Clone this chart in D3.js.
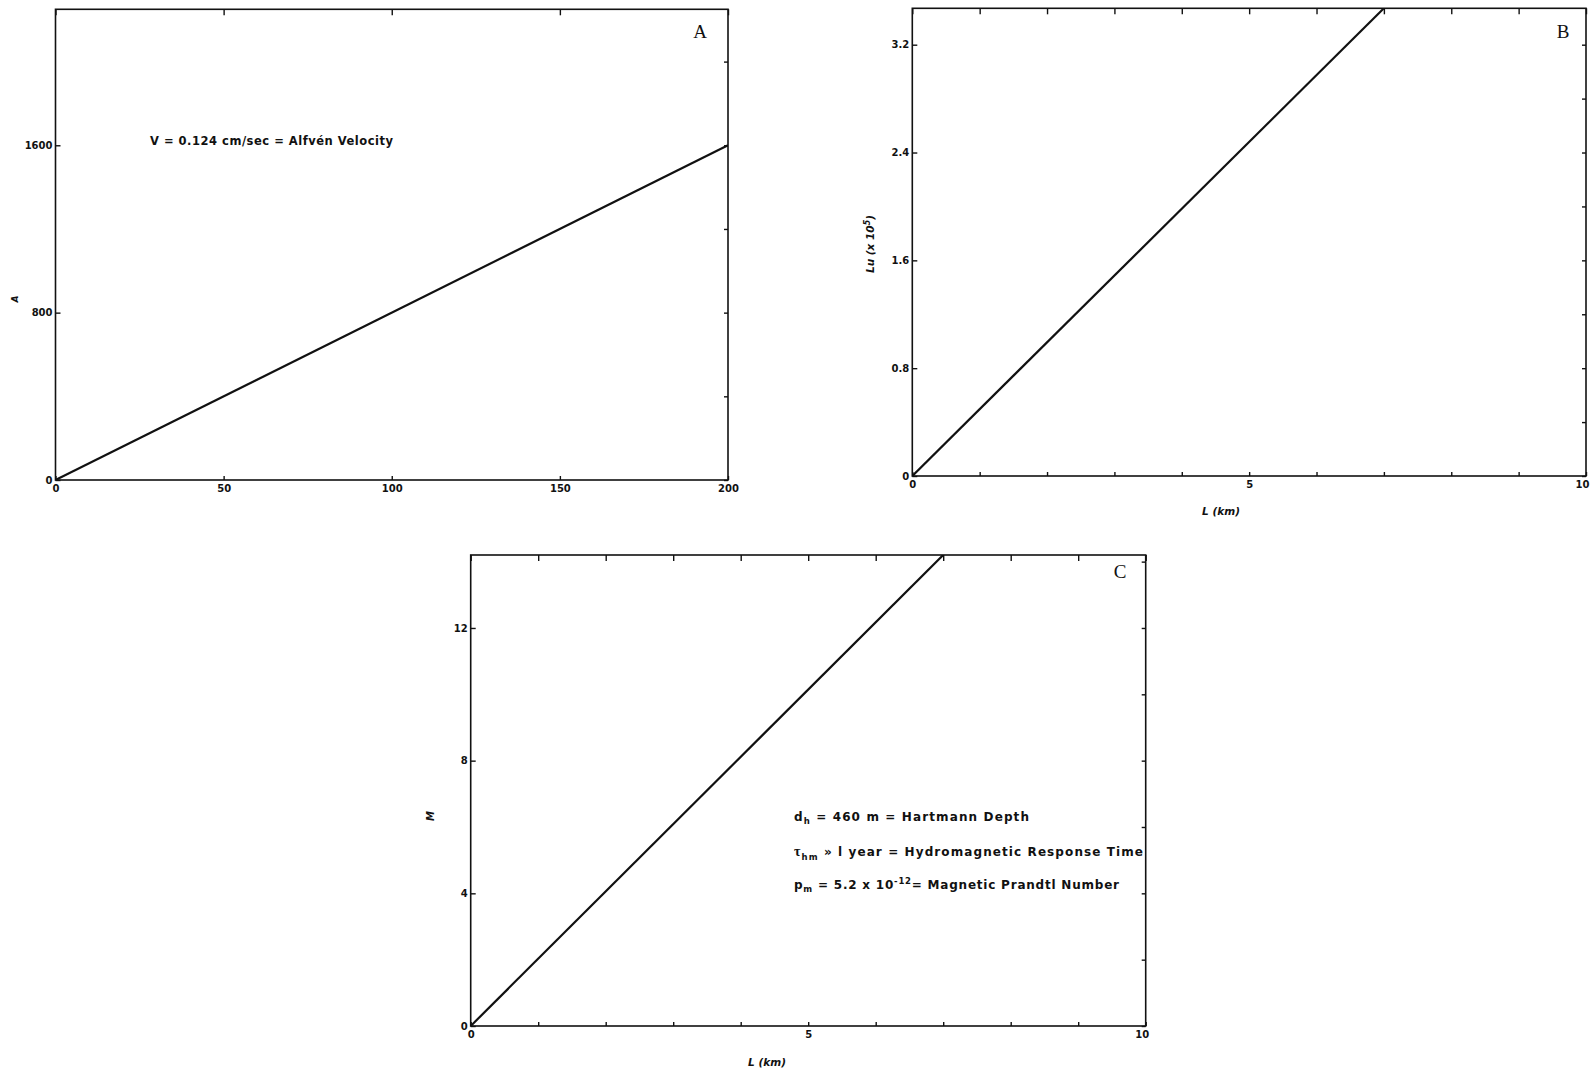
<!DOCTYPE html>
<html>
<head>
<meta charset="utf-8">
<script src="https://cdn.jsdelivr.net/npm/d3@7"></script>
<style>
  html, body { margin: 0; padding: 0; background: #fff; }
  svg { display: block; }
  .tick text { font-family: "DejaVu Sans", sans-serif; font-weight: bold; fill: #111; }
  .note { font-family: "DejaVu Sans", sans-serif; font-weight: bold; fill: #111; }
  .title { font-family: "DejaVu Sans", sans-serif; font-weight: bold; font-style: italic; fill: #111; }
  .letter { font-family: "Liberation Serif", "Times New Roman", serif; fill: #111; }
</style>
</head>
<body>
<svg id="fig" width="1590" height="1073"></svg>
<script>
// ---- Panel A: A versus wavelength ----
const aX = [0, 200];
const aY = [0, 1600];
const aXLabels = [0, 50, 100, 150, 200];
const aYLabels = [0, 800, 1600];
const aYMinor = [0, 400, 800, 1200, 1600, 2000];

// ---- Panel B: Lundquist number (x 10^5) versus L (km) ----
const bX = [0, 7];
const bY = [0, 3.47];
const bXLabels = [0, 5, 10];
const bXMinor = [0, 1, 2, 3, 4, 5, 6, 7, 8, 9, 10];
const bYLabels = [0, 0.8, 1.6, 2.4, 3.2];
const bYMinor = [0, 0.4, 0.8, 1.2, 1.6, 2.0, 2.4, 2.8, 3.2];

// ---- Panel C: M versus L (km) ----
const cX = [0, 7];
const cY = [0, 14.2];
const cXLabels = [0, 5, 10];
const cXMinor = [0, 1, 2, 3, 4, 5, 6, 7, 8, 9, 10];
const cYLabels = [0, 4, 8, 12];
const cYMinor = [0, 2, 4, 6, 8, 10, 12, 14];

const svg = d3.select("#fig");

function panel(cfg) {
  const x = d3.scaleLinear().domain(cfg.xDomain).range([cfg.left, cfg.right]);
  const y = d3.scaleLinear().domain(cfg.yDomain).range([cfg.bottom, cfg.top]);
  const g = svg.append("g");

  const clipId = "clip-" + cfg.id;
  g.append("clipPath").attr("id", clipId)
    .append("rect")
    .attr("x", cfg.left).attr("y", cfg.top)
    .attr("width", cfg.right - cfg.left).attr("height", cfg.bottom - cfg.top);

  const fmt = cfg.yFormat || (d => d);

  // left axis: labelled, ticks pointing inward
  g.append("g").attr("transform", `translate(${cfg.left},0)`)
    .call(d3.axisLeft(y).tickValues(cfg.yLabels).tickSize(-5).tickPadding(3).tickFormat(fmt))
    .call(a => a.select(".domain").remove())
    .call(a => a.selectAll("text").style("font-size", "10px"));

  // right axis: finer ticks, no labels
  g.append("g").attr("transform", `translate(${cfg.right},0)`)
    .call(d3.axisRight(y).tickValues(cfg.yMinor).tickSize(-4).tickFormat(""))
    .call(a => a.select(".domain").remove());

  // bottom axis labels
  const bx = g.append("g").attr("transform", `translate(0,${cfg.bottom})`)
    .call(d3.axisBottom(x).tickValues(cfg.xLabels).tickSize(0).tickPadding(5))
    .call(a => a.select(".domain").remove())
    .call(a => a.selectAll("text").style("font-size", "10px"));
  if (cfg.lastLabelEnd) {
    bx.selectAll(".tick text")
      .filter(d => d === cfg.xDomain[1])
      .attr("text-anchor", "end").attr("dx", 3);
  }
  g.append("g").attr("transform", `translate(0,${cfg.bottom})`)
    .call(d3.axisBottom(x).tickValues(cfg.xMinor).tickSize(-4).tickFormat(""))
    .call(a => a.select(".domain").remove());

  // top axis
  g.append("g").attr("transform", `translate(0,${cfg.top})`)
    .call(d3.axisTop(x).tickValues(cfg.xMinor).tickSize(-6).tickFormat(""))
    .call(a => a.select(".domain").remove());

  g.selectAll(".tick line").attr("stroke", "#111").attr("stroke-width", 1.4);

  // frame
  g.append("rect")
    .attr("x", cfg.left).attr("y", cfg.top)
    .attr("width", cfg.right - cfg.left).attr("height", cfg.bottom - cfg.top)
    .attr("fill", "none").attr("stroke", "#111").attr("stroke-width", 1.6);

  // data line
  const pts = cfg.xs.map((v, i) => [v, cfg.ys[i]]);
  g.append("path")
    .datum(pts)
    .attr("clip-path", `url(#${clipId})`)
    .attr("fill", "none").attr("stroke", "#111").attr("stroke-width", 2.2)
    .attr("d", d3.line().x(d => x(d[0])).y(d => y(d[1])));

  // panel letter
  g.append("text").attr("class", "letter")
    .attr("x", cfg.letterX).attr("y", cfg.letterY)
    .attr("text-anchor", "middle").style("font-size", "19px")
    .text(cfg.letter);

  return { g, x, y };
}

// Panel A
const pA = panel({
  id: "a", left: 55.5, right: 728, top: 9.3, bottom: 480,
  xDomain: [0, 200], yDomain: [0, 2250],
  xLabels: aXLabels, xMinor: aXLabels, yLabels: aYLabels, yMinor: aYMinor,
  xs: aX, ys: aY, letter: "A", letterX: 700, letterY: 38
});
pA.g.append("text").attr("class", "title")
  .attr("transform", "translate(18,299) rotate(-90)")
  .attr("text-anchor", "middle").style("font-size", "9px").text("A");
pA.g.append("text").attr("class", "note")
  .attr("x", 150).attr("y", 145).style("font-size", "11.5px")
  .attr("textLength", 243).attr("lengthAdjust", "spacing")
  .text("V = 0.124 cm/sec = Alfvén Velocity");

// Panel B
const pB = panel({
  id: "b", left: 912.3, right: 1586, top: 8.3, bottom: 476,
  xDomain: [0, 10], yDomain: [0, 3.47], lastLabelEnd: true,
  xLabels: bXLabels, xMinor: bXMinor, yLabels: bYLabels, yMinor: bYMinor,
  yFormat: d => d === 0 ? "0" : d3.format(".1f")(d),
  xs: bX, ys: bY, letter: "B", letterX: 1563, letterY: 38
});
const bt = pB.g.append("text").attr("class", "title")
  .attr("transform", "translate(874,244) rotate(-90)")
  .attr("text-anchor", "middle").style("font-size", "10.5px");
bt.append("tspan").text("Lu (x 10");
bt.append("tspan").attr("dy", -4).style("font-size", "8px").text("5");
bt.append("tspan").attr("dy", 4).text(")");
pB.g.append("text").attr("class", "title")
  .attr("x", 1221).attr("y", 515).attr("text-anchor", "middle")
  .style("font-size", "10.5px").text("L (km)");

// Panel C
const pC = panel({
  id: "c", left: 470.7, right: 1145.7, top: 555, bottom: 1026,
  xDomain: [0, 10], yDomain: [0, 14.2], lastLabelEnd: true,
  xLabels: cXLabels, xMinor: cXMinor, yLabels: cYLabels, yMinor: cYMinor,
  xs: cX, ys: cY, letter: "C", letterX: 1120, letterY: 578
});
pC.g.append("text").attr("class", "title")
  .attr("transform", "translate(434,816) rotate(-90)")
  .attr("text-anchor", "middle").style("font-size", "10px").text("M");
pC.g.append("text").attr("class", "title")
  .attr("x", 767).attr("y", 1066).attr("text-anchor", "middle")
  .style("font-size", "10.5px").text("L (km)");

// parameter notes in panel C
const notes = pC.g.append("g").attr("class", "note").style("font-size", "12px");
const n1 = notes.append("text").attr("x", 794).attr("y", 821)
  .attr("textLength", 235).attr("lengthAdjust", "spacing");
n1.append("tspan").text("d");
n1.append("tspan").attr("dy", 3).style("font-size", "8.5px").text("h");
n1.append("tspan").attr("dy", -3).text(" = 460 m = Hartmann  Depth");

const n2 = notes.append("text").attr("x", 794).attr("y", 856)
  .attr("textLength", 349).attr("lengthAdjust", "spacing");
n2.append("tspan").style("font-family", "Liberation Serif, serif").style("font-size", "14px").text("τ");
n2.append("tspan").attr("dy", 4).style("font-size", "8.5px").text("hm");
n2.append("tspan").attr("dy", -4).text("  » l year = Hydromagnetic  Response Time");

const n3 = notes.append("text").attr("x", 794).attr("y", 889)
  .attr("textLength", 325).attr("lengthAdjust", "spacing");
n3.append("tspan").text("p");
n3.append("tspan").attr("dy", 3).style("font-size", "8.5px").text("m");
n3.append("tspan").attr("dy", -3).text(" = 5.2  x 10");
n3.append("tspan").attr("dy", -5).style("font-size", "8.5px").text("-12");
n3.append("tspan").attr("dy", 5).text("= Magnetic  Prandtl  Number");
</script>
</body>
</html>
